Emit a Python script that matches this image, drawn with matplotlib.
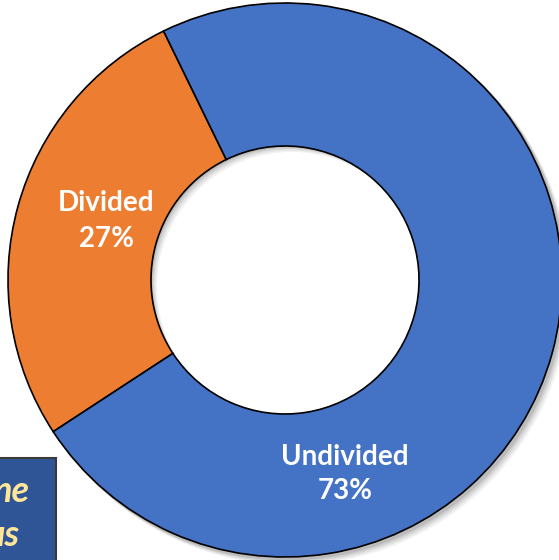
import matplotlib
matplotlib.use('Agg')

import matplotlib.pyplot as plt
import matplotlib.patches as patches

# Data
labels = ['Divided', 'Undivided']
shares = [27, 73]
colors = ['#ED7D31', '#4472C4']
side_lines = ['ne', 'us']

W, H = 559, 560
CX, CY = 285, 280
R_OUT = 277
R_IN = 134

fig = plt.figure(figsize=(W / 100, H / 100), dpi=100)
ax = fig.add_axes([0, 0, 1, 1])
ax.set_xlim(0, W)
ax.set_ylim(0, H)
ax.axis('off')

# soft drop shadow under the ring
for k, a in enumerate([0.05, 0.06, 0.08, 0.1]):
    off = 7 - k * 1.5
    ring = patches.Wedge((CX + off, CY - off), R_OUT + 1, 0, 360,
                         width=R_OUT - R_IN, facecolor='black',
                         edgecolor='none', alpha=a)
    ax.add_patch(ring)

wedges, _ = ax.pie(shares, colors=colors, startangle=116, counterclock=True,
                   center=(CX, CY), radius=R_OUT,
                   wedgeprops=dict(width=R_OUT - R_IN, edgecolor='black',
                                   linewidth=1.2))
ax.set_xlim(0, W)
ax.set_ylim(0, H)
ax.set_aspect('auto')

font = ['Lato', 'DejaVu Sans']
ax.text(106, H - 221, f'{labels[0]}\n{shares[0]}%', ha='center', va='center',
        color='white', fontsize=20, fontweight='bold', family=font,
        linespacing=1.5)
ax.text(345, H - 474, f'{labels[1]}\n{shares[1]}%', ha='center', va='center',
        color='white', fontsize=20, fontweight='bold', family=font,
        linespacing=1.4)

# cropped text box at bottom left
box = patches.Rectangle((-5, -5), 61, H - 458 + 5, facecolor='#2F5597',
                        edgecolor='#3A3A3A', linewidth=1.5)
ax.add_patch(box)
ax.text(29, H - 492, side_lines[0], ha='right', va='center', color='#FFE699',
        fontsize=26, fontweight='bold', fontstyle='italic', family=font)
ax.text(20, H - 535, side_lines[1], ha='right', va='center', color='#FFE699',
        fontsize=26, fontweight='bold', fontstyle='italic', family=font)

fig.savefig('out.png', dpi=100, facecolor='white')
